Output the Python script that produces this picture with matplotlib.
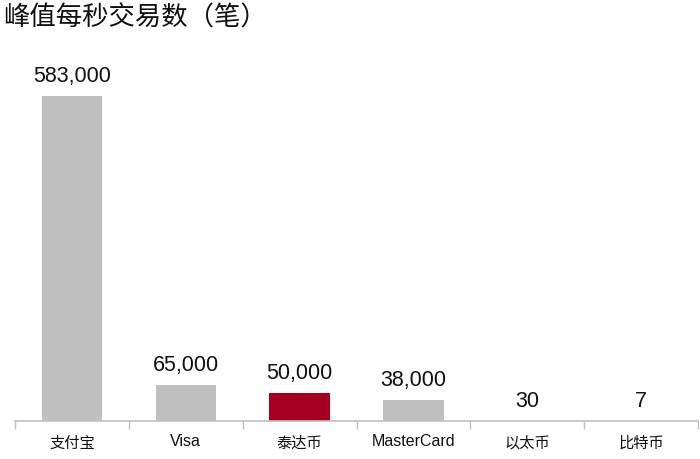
import matplotlib
matplotlib.use("Agg")
import matplotlib.pyplot as plt

categories = ["支付宝", "Visa", "泰达币", "MasterCard", "以太币", "比特币"]
values = [583000, 65000, 50000, 38000, 30, 7]
value_labels = ["583,000", "65,000", "50,000", "38,000", "30", "7"]
highlight = "泰达币"
title = "峰值每秒交易数（笔）"

gray = "#BFBFBF"
red = "#A50021"

fig = plt.figure(figsize=(7, 4.6), dpi=100)
ax = fig.add_axes([15/700, 38/460, 683/700, 382/460])

x = list(range(len(categories)))
colors = [red if c == highlight else gray for c in categories]
bars = ax.bar(x, values, width=0.53, color=colors)
ax.set_xlim(-0.5, len(categories) - 0.5)
ax.set_ylim(0, 583000 * 382 / 325)

for xi, v, lab in zip(x, values, value_labels):
    ax.annotate(lab, (xi, v), xytext=(0, 7), textcoords="offset points",
                ha="center", va="bottom", fontsize=15.5,
                family=["Liberation Sans", "DejaVu Sans"], color="#111111")

for s in ["top", "right", "left"]:
    ax.spines[s].set_visible(False)
ax.spines["bottom"].set_color("#BFBFBF")
ax.spines["bottom"].set_linewidth(1.2)
ax.set_yticks([])

# tick marks at category boundaries
ax.set_xticks([i - 0.5 for i in range(len(categories) + 1)], minor=False)
ax.set_xticklabels([])
ax.tick_params(axis="x", which="major", length=6, color="#BFBFBF", width=1)
ax.set_xticks(x, minor=True)
ax.set_xticklabels(categories, minor=True)
ax.tick_params(axis="x", which="minor", length=0, pad=9)
for lbl in ax.get_xticklabels(minor=True):
    if any(ord(ch) > 127 for ch in lbl.get_text()):
        lbl.set_fontfamily(["Noto Sans CJK SC", "DejaVu Sans"])
        lbl.set_fontsize(11)
    else:
        lbl.set_fontfamily(["Liberation Sans", "DejaVu Sans"])
        lbl.set_fontsize(11.5)
    lbl.set_color("#111111")

fig.text(3/700, 1 - 18/460, title, ha="left", va="center", fontsize=19,
         family=["Noto Sans CJK SC", "DejaVu Sans"], color="#111111")

fig.savefig("out.png", dpi=100)
